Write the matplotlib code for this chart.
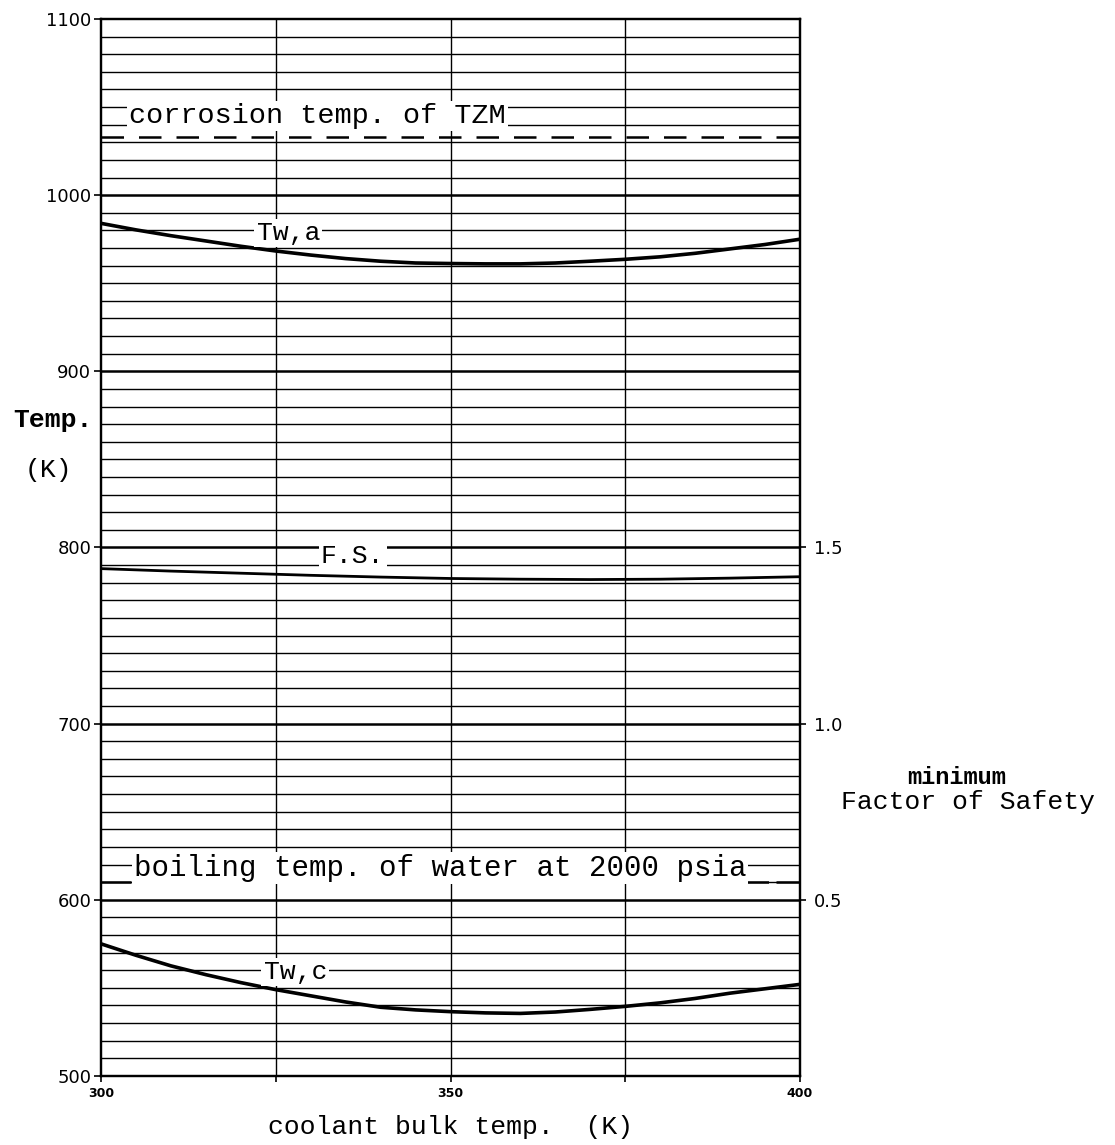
import numpy as np
import matplotlib
matplotlib.use('Agg')
import matplotlib.pyplot as plt

# ------------------------------------------------------------
# data
# ------------------------------------------------------------
coolant_T = [300, 305, 310, 315, 320, 325, 330, 335, 340, 345, 350,
             355, 360, 365, 370, 375, 380, 385, 390, 395, 400]

# wall temperature, aluminium side (K)
Tw_a = [984, 980.3, 977, 974, 971, 968.3, 966, 964, 962.5, 961.5, 961.2,
        961, 961, 961.5, 962.5, 963.6, 965, 967, 969.5, 972, 975]

# wall temperature, coolant side (K)
Tw_c = [575, 568.5, 562.5, 557.5, 553, 549, 545.5, 542, 539, 537.5, 536.5,
        535.8, 535.5, 536.3, 537.8, 539.5, 541.5, 544, 547, 549.5, 552]

# minimum factor of safety (right axis)
fs_T = [300, 310, 320, 330, 340, 350, 360, 370, 380, 390, 400]
fs = [1.440, 1.433, 1.427, 1.421, 1.416, 1.412, 1.410, 1.409, 1.410,
      1.413, 1.417]

T_corrosion = 1033   # corrosion temp. of TZM
T_boiling = 610      # boiling temp. of water at 2000 psia

y_major = [500, 600, 700, 800, 900, 1000, 1100]
fs_ticks = [0.5, 1.0, 1.5]
x_ticks = [300, 325, 350, 375, 400]
x_ticklabels = ['300', '', '350', '', '400']

MONO = 'Liberation Mono'

fig = plt.figure(figsize=(11.15, 11.45), dpi=100)
ax = fig.add_axes([0.0906, 0.0603, 0.6269, 0.9231])

# grid: thin every 10 K, heavier every 100 K
for t in range(510, 1100, 10):
    if t % 100:
        ax.axhline(t, color='black', lw=1.0, zorder=1)
for t in y_major[1:-1]:
    ax.axhline(t, color='black', lw=1.8, zorder=1)
for x in [325, 350, 375]:
    ax.axvline(x, color='black', lw=1.0, zorder=1)

# reference temperatures
ax.axhline(T_corrosion, color='black', lw=1.8, dashes=(9, 6), zorder=2)
ax.axhline(T_boiling, color='black', lw=1.8, dashes=(12, 3), zorder=2)

# curves
ax.plot(coolant_T, Tw_a, color='black', lw=2.6, zorder=3)
ax.plot(coolant_T, Tw_c, color='black', lw=2.6, zorder=3)

box = dict(facecolor='white', edgecolor='none', pad=1.5)
ax.text(326.8, 978.5, 'Tw,a', family=MONO, fontsize=19, ha='center',
        va='center', bbox=box, zorder=4)
ax.text(327.8, 559, 'Tw,c', family=MONO, fontsize=19, ha='center',
        va='center', bbox=box, zorder=4)
ax.text(336, 795, 'F.S.', family=MONO, fontsize=19, ha='center',
        va='center', bbox=box, zorder=4)
ax.text(331, 1045, 'corrosion temp. of TZM', family=MONO, fontsize=20.5,
        ha='center', va='center', bbox=box, zorder=4)
ax.text(348.5, 618, 'boiling temp. of water at 2000 psia', family=MONO,
        fontsize=21, ha='center', va='center', bbox=box, zorder=4)

ax.set_xlim(300, 400)
ax.set_ylim(500, 1100)
ax.set_yticks(y_major)
ax.set_yticklabels([str(v) for v in y_major], fontsize=13)
ax.set_xticks(x_ticks)
ax.set_xticklabels(x_ticklabels, fontsize=9, fontweight='bold')
ax.tick_params(axis='y', direction='out', length=5, width=1.2, pad=2)
ax.tick_params(axis='x', direction='out', length=4, width=1.2, pad=4)
for s in ax.spines.values():
    s.set_linewidth(1.6)

# factor of safety on the right-hand scale
ax2 = ax.twinx()
ax2.plot(fs_T, fs, color='black', lw=2.0, zorder=3)
ax2.set_ylim(0, 3)
ax2.set_yticks(fs_ticks)
ax2.set_yticklabels(['0.5', '1.0', '1.5'], fontsize=13)
ax2.tick_params(axis='y', direction='out', length=4, width=1.2, pad=6)
for s in ax2.spines.values():
    s.set_linewidth(1.6)

# axis titles
fig.text(53 / 1115, 1 - 420 / 1145, 'Temp.', family=MONO, fontsize=19,
         fontweight='bold', ha='center', va='center')
fig.text(48 / 1115, 1 - 470 / 1145, '(K)', family=MONO, fontsize=19,
         ha='center', va='center')
fig.text(957 / 1115, 1 - 777 / 1145, 'minimum', family=MONO, fontsize=17,
         fontweight='bold', ha='center', va='center')
fig.text(968 / 1115, 1 - 802 / 1145, 'Factor of Safety', family=MONO,
         fontsize=19, ha='center', va='center')
fig.text(451 / 1115, 1 - 1127 / 1145, 'coolant bulk temp.  (K)', family=MONO,
         fontsize=19, ha='center', va='center')

fig.savefig('out.png', dpi=100)
